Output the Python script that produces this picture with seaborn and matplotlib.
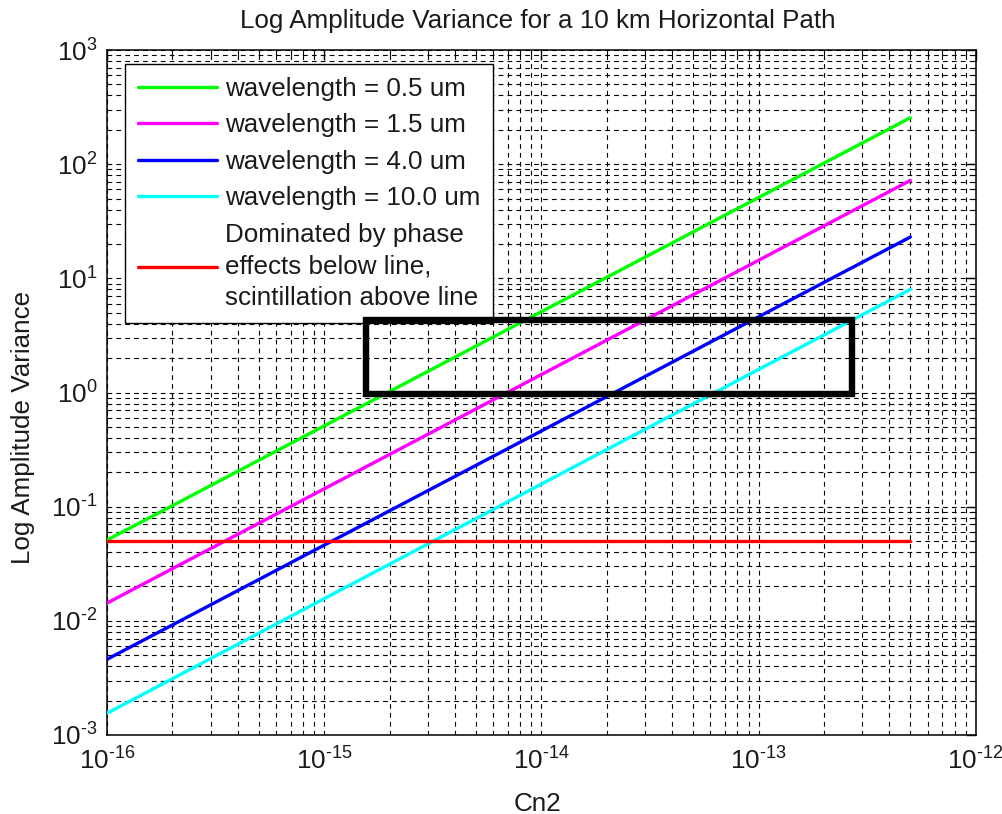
import matplotlib
matplotlib.use("Agg")
import numpy as np
import pandas as pd
import matplotlib.pyplot as plt
import seaborn as sns
from matplotlib.lines import Line2D
from matplotlib.patches import Rectangle
from matplotlib.ticker import LogLocator, NullFormatter, FuncFormatter

# Refractive-index structure constant at the ends of each curve
cn2 = [1e-16, 5e-13]

# Log amplitude variance at those ends, one series per wavelength
var_0p5um = [0.051, 255.0]
var_1p5um = [0.0143, 72.0]
var_4p0um = [0.0046, 23.0]
var_10p0um = [0.00155, 8.0]

series_labels = [
    "wavelength = 0.5 um",
    "wavelength = 1.5 um",
    "wavelength = 4.0 um",
    "wavelength = 10.0 um",
]
series_colors = ["#00ff00", "#ff00ff", "#0000ff", "#00ffff"]

# Boundary between phase-dominated and scintillation-dominated regimes
threshold = [0.05, 0.05]
threshold_label = "Dominated by phase\neffects below line,\nscintillation above line"

# Highlighted region
box_cn2 = [1.55e-15, 2.7e-13]
box_var = [0.97, 4.3]

x_ticks = [1e-16, 1e-15, 1e-14, 1e-13, 1e-12]
y_ticks = [1e-3, 1e-2, 1e-1, 1e0, 1e1, 1e2, 1e3]

rows = []
for lab, vals in zip(series_labels, [var_0p5um, var_1p5um, var_4p0um, var_10p0um]):
    for c, v in zip(cn2, vals):
        rows.append({"Cn2": c, "variance": v, "series": lab})
df = pd.DataFrame(rows)

sns.set_style("white")
plt.rcParams["font.family"] = ["Liberation Sans", "DejaVu Sans"]
plt.rcParams["mathtext.fontset"] = "custom"
plt.rcParams["mathtext.rm"] = "Liberation Sans"
plt.rcParams["mathtext.it"] = "Liberation Sans:italic"
plt.rcParams["mathtext.bf"] = "Liberation Sans:bold"
plt.rcParams["axes.unicode_minus"] = False
plt.rcParams["lines.scale_dashes"] = False

FS = 18.7
TXT = "#1a1a1a"

W, H = 1003, 814
fig = plt.figure(figsize=(W / 100, H / 100), dpi=100)
ax_l, ax_r, ax_t, ax_b = 107, 975.7, 50, 735
ax = fig.add_axes([ax_l / W, (H - ax_b) / H, (ax_r - ax_l) / W, (ax_b - ax_t) / H])
ax.set_xscale("log")
ax.set_yscale("log")

palette = dict(zip(series_labels, series_colors))
sns.lineplot(data=df, x="Cn2", y="variance", hue="series", palette=palette,
             hue_order=series_labels, estimator=None, sort=False,
             linewidth=2.4, legend=False, ax=ax, zorder=3)
sns.lineplot(x=cn2, y=threshold, color="#ff0000", linewidth=2.4, ax=ax, zorder=3)

# Highlight box, drawn over the legend frame where they meet
ax.add_patch(Rectangle((box_cn2[0], box_var[0]), box_cn2[1] - box_cn2[0],
                       box_var[1] - box_var[0], fill=False, edgecolor="black",
                       linewidth=4.6, zorder=7, joinstyle="miter"))

ax.set_xlim(x_ticks[0], x_ticks[-1])
ax.set_ylim(y_ticks[0], y_ticks[-1])
ax.set_xticks(x_ticks)
ax.set_yticks(y_ticks)
ax.xaxis.set_minor_locator(LogLocator(base=10, subs=np.arange(2, 10), numticks=20))
ax.yaxis.set_minor_locator(LogLocator(base=10, subs=np.arange(2, 10), numticks=20))
ax.xaxis.set_minor_formatter(NullFormatter())
ax.yaxis.set_minor_formatter(NullFormatter())


def power_label(v, pos):
    e = int(round(np.log10(v)))
    return r"$\mathdefault{10^{\text{%d}}}$" % e


ax.xaxis.set_major_formatter(FuncFormatter(power_label))
ax.yaxis.set_major_formatter(FuncFormatter(power_label))

grid_style = dict(color="black", linewidth=0.8, linestyle=(0, (3.4, 3.0)))
ax.grid(True, which="major", **grid_style)
ax.grid(True, which="minor", **grid_style)
ax.set_axisbelow(True)

ax.tick_params(which="both", direction="in", top=True, right=True,
               color="black", labelsize=FS, labelcolor=TXT)
ax.tick_params(which="major", length=7, width=1.0)
ax.tick_params(which="minor", length=3.5, width=0.8)
ax.tick_params(axis="x", which="major", pad=9)
ax.tick_params(axis="y", which="major", pad=7)
for s in ax.spines.values():
    s.set_linewidth(1.1)
    s.set_color("black")

ax.set_xlabel("Cn2", fontsize=FS, color=TXT)
ax.set_ylabel("Log Amplitude Variance", fontsize=FS, color=TXT)
ax.xaxis.set_label_coords((537 - ax_l) / (ax_r - ax_l), (ax_b - 792) / (ax_b - ax_t))
ax.yaxis.label.set_va("center")
ax.yaxis.set_label_coords((23 - ax_l) / (ax_r - ax_l), (ax_b - 427) / (ax_b - ax_t))

ax.text((537.5 - ax_l) / (ax_r - ax_l), (ax_b - 28) / (ax_b - ax_t),
        "Log Amplitude Variance for a 10 km Horizontal Path",
        transform=ax.transAxes, ha="center", va="baseline", fontsize=FS,
        color=TXT)

handles = [Line2D([], [], color=c, linewidth=2.4) for c in series_colors]
handles.append(Line2D([], [], color="#ff0000", linewidth=2.4))
labels = series_labels + [threshold_label]

leg = ax.legend(handles, labels, loc="upper left",
                bbox_to_anchor=((125 - ax_l) / (ax_r - ax_l), 1 - (64 - ax_t) / (ax_b - ax_t)),
                borderaxespad=0, fontsize=FS, frameon=True, fancybox=False,
                edgecolor="black", framealpha=1, handlelength=3.05,
                handletextpad=0.3, labelspacing=0.48, borderpad=0.5)
leg.get_frame().set_linewidth(1.0)
for t in leg.get_texts():
    t.set_color(TXT)
    t.set_linespacing(1.4)
leg.set_zorder(5)

fig.savefig("out.png", dpi=100)
